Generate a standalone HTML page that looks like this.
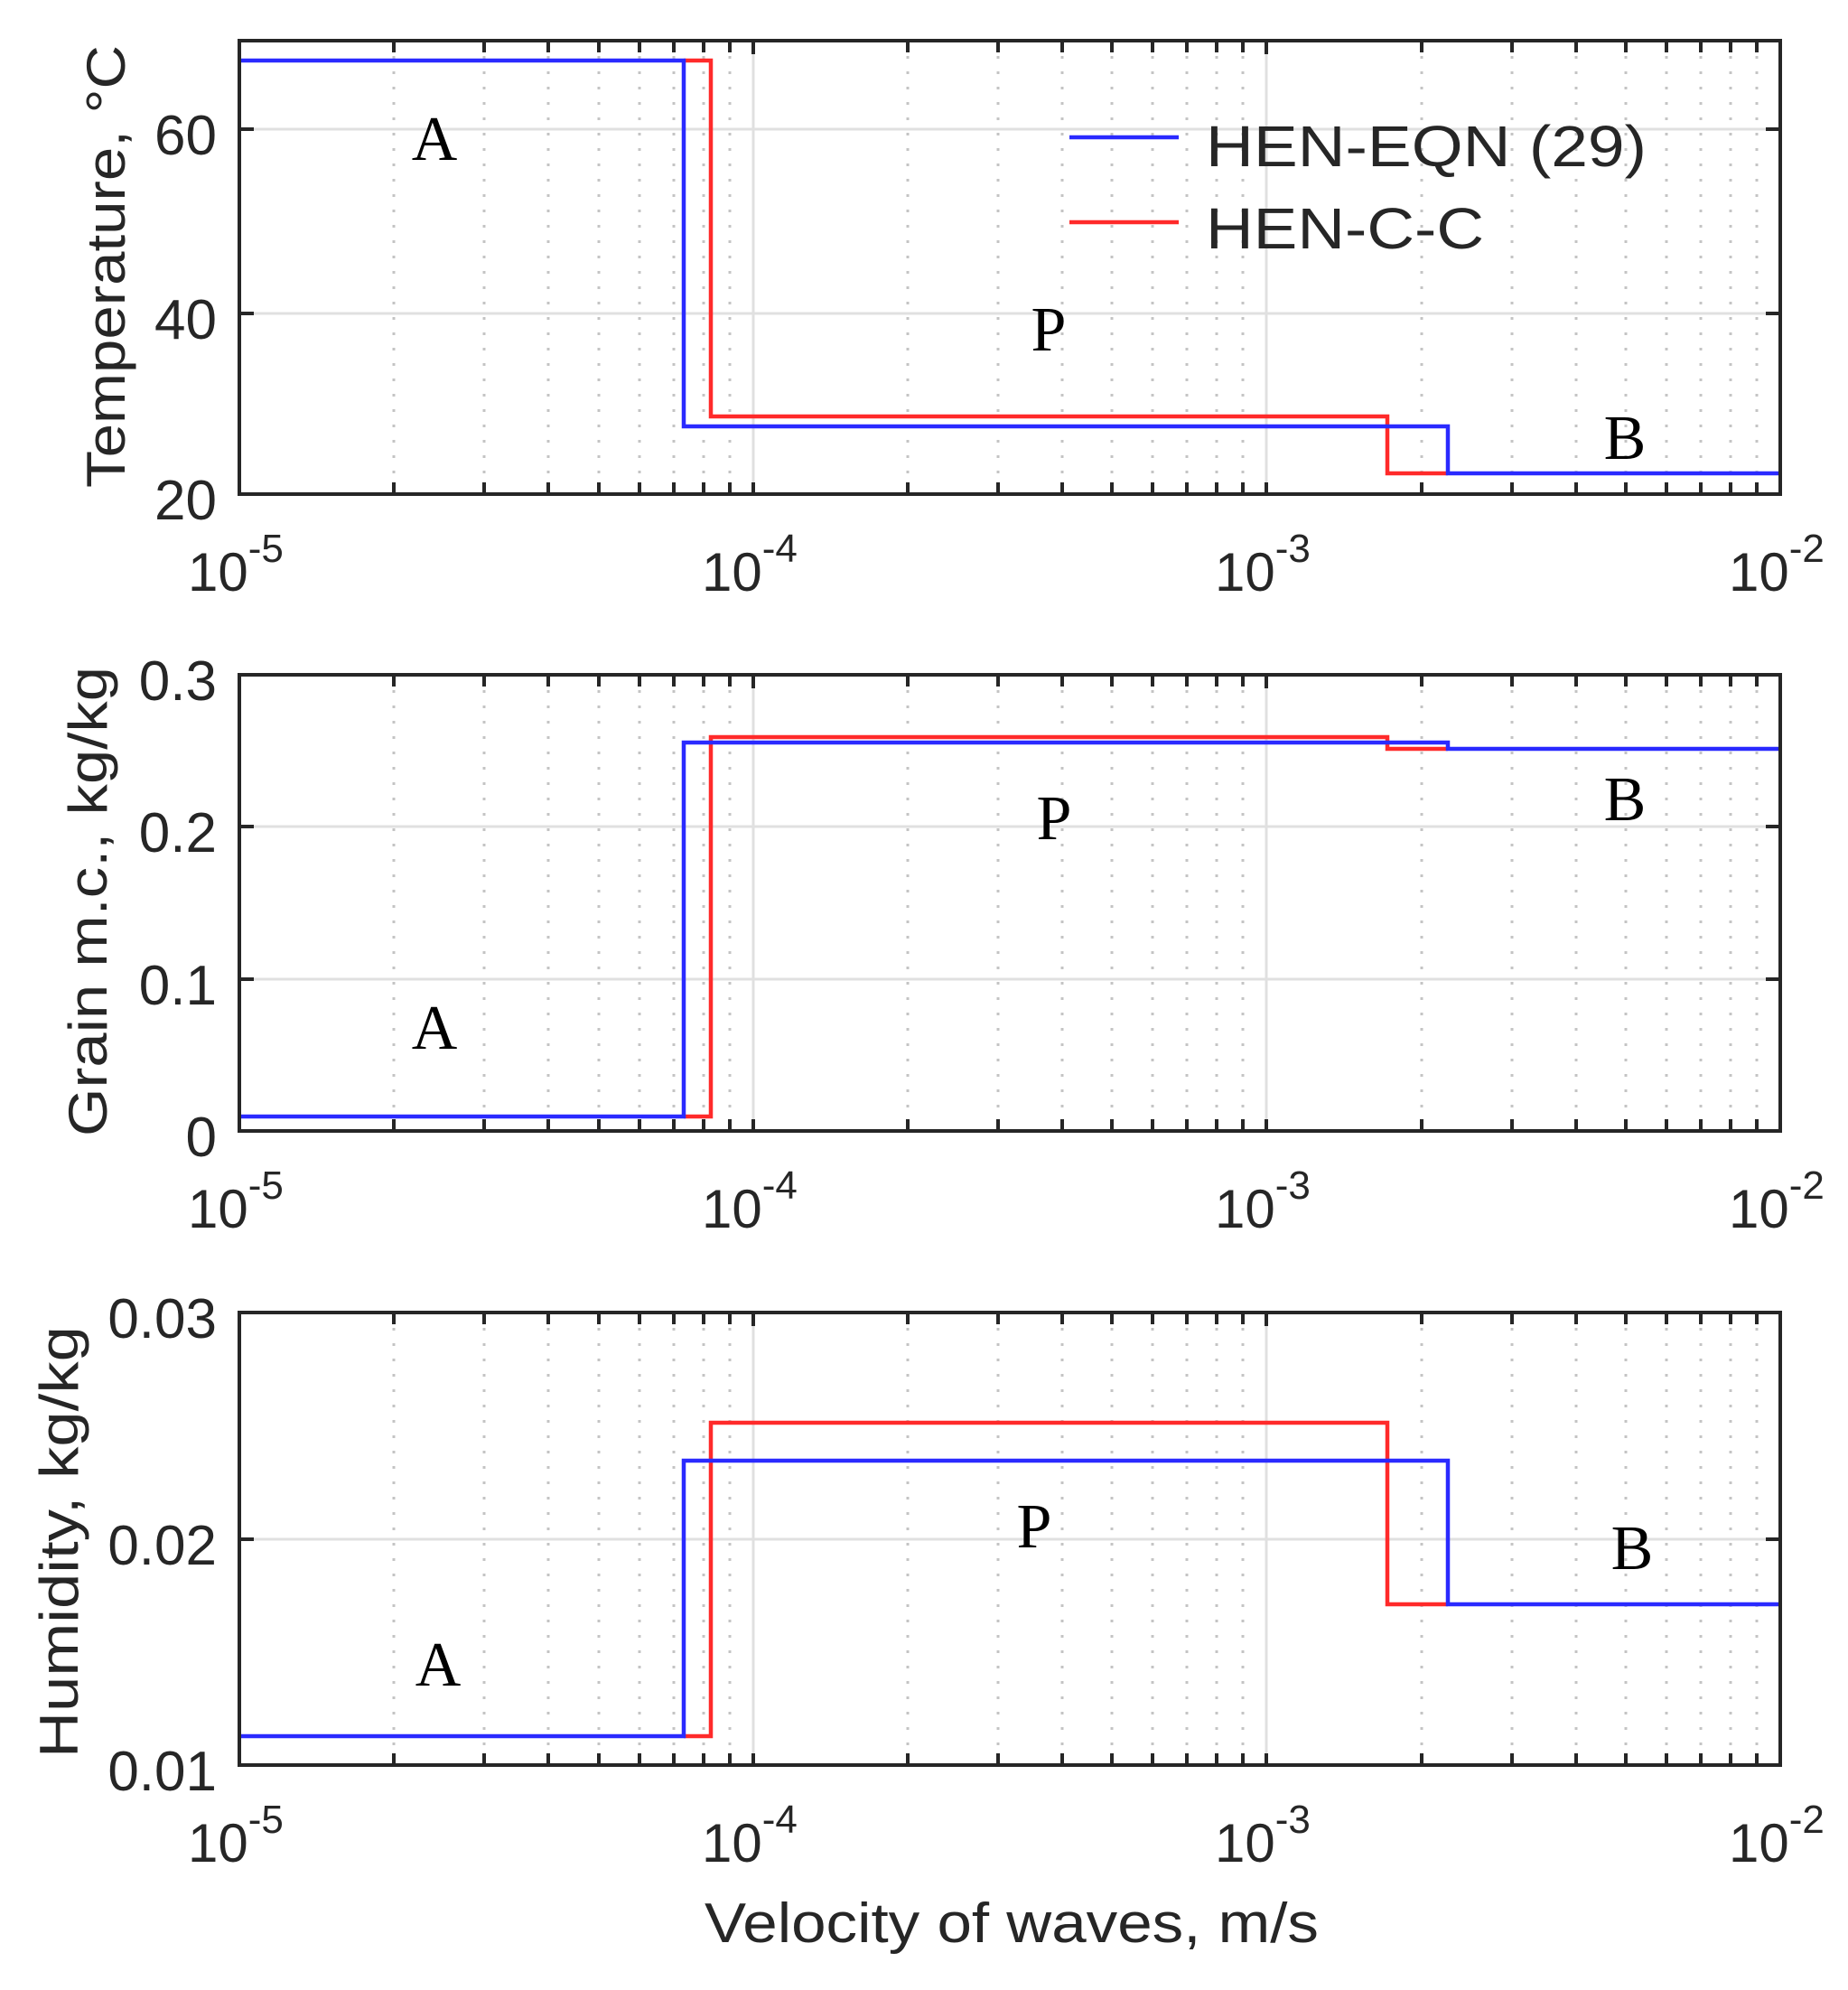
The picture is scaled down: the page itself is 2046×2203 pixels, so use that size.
<!DOCTYPE html>
<html><head><meta charset="utf-8"><style>html,body{margin:0;padding:0;background:#fff}svg{display:block}</style></head>
<body>
<svg xmlns="http://www.w3.org/2000/svg" xmlns:xlink="http://www.w3.org/1999/xlink" width="2046" height="2203" viewBox="0 0 2046 2203">
<defs>
<path id="mt" d="M436 0v13M536 0v13M607 0v13M663 0v13M708 0v13M746 0v13M779 0v13M808 0v13M834 0v15M1005 0v13M1105 0v13M1176 0v13M1231 0v13M1276 0v13M1314 0v13M1347 0v13M1376 0v13M1402 0v15M1574 0v13M1674 0v13M1745 0v13M1800 0v13M1845 0v13M1883 0v13M1916 0v13M1945 0v13" stroke="#262626" stroke-width="4" fill="none"/>
</defs>
<rect width="2046" height="2203" fill="#fff"/>
<g font-family="Liberation Sans, sans-serif" fill="#262626">

<!-- Panel 1 -->
<g>
<path d="M436 45V547M536 45V547M607 45V547M663 45V547M708 45V547M746 45V547M779 45V547M808 45V547M1005 45V547M1105 45V547M1176 45V547M1231 45V547M1276 45V547M1314 45V547M1347 45V547M1376 45V547M1574 45V547M1674 45V547M1745 45V547M1800 45V547M1845 45V547M1883 45V547M1916 45V547M1945 45V547" stroke="#c4c4c4" stroke-width="3" stroke-dasharray="3,14" fill="none"/>
<path d="M834 45V547M1402 45V547M265 143H1971M265 347H1971" stroke="#e0e0e0" stroke-width="3" fill="none"/>
<path d="M757 67H787V461H1536V524H1603" stroke="#ff2a2a" stroke-width="4.5" fill="none"/>
<path d="M265 67H757V472H1603V524H1971" stroke="#2a2aff" stroke-width="4.5" fill="none"/>
<path d="M265 143h16M265 347h16M1971 143h-16M1971 347h-16" stroke="#262626" stroke-width="4"/>
<use xlink:href="#mt" href="#mt" transform="translate(0,45)"/>
<use xlink:href="#mt" href="#mt" transform="translate(0,534)"/>
<rect x="265" y="45" width="1706" height="502" fill="none" stroke="#262626" stroke-width="4"/>
<g font-size="62" text-anchor="end"><text x="240" y="171">60</text><text x="240" y="375">40</text><text x="240" y="575">20</text></g>
<g font-size="60"><text x="208" y="654">10<tspan font-size="44" dy="-32">-5</tspan></text><text x="777" y="654">10<tspan font-size="44" dy="-32">-4</tspan></text><text x="1345" y="654">10<tspan font-size="44" dy="-32">-3</tspan></text><text x="1914" y="654">10<tspan font-size="44" dy="-32">-2</tspan></text></g>
<text transform="translate(138,295) rotate(-90)" font-size="60" text-anchor="middle" textLength="490" lengthAdjust="spacingAndGlyphs">Temperature, °C</text>
<path d="M1184 152H1305" stroke="#2a2aff" stroke-width="4.5"/>
<path d="M1184 246H1305" stroke="#ff2a2a" stroke-width="4.5"/>
<text x="1335" y="184" font-size="64" textLength="488" lengthAdjust="spacingAndGlyphs">HEN-EQN (29)</text>
<text x="1335" y="275" font-size="64" textLength="308" lengthAdjust="spacingAndGlyphs">HEN-C-C</text>
<g font-family="Liberation Serif, serif" font-size="70" fill="#000" text-anchor="middle"><text x="481" y="177">A</text><text x="1161" y="388">P</text><text x="1799" y="508">B</text></g>
</g>

<!-- Panel 2 -->
<g>
<path d="M436 747V1252M536 747V1252M607 747V1252M663 747V1252M708 747V1252M746 747V1252M779 747V1252M808 747V1252M1005 747V1252M1105 747V1252M1176 747V1252M1231 747V1252M1276 747V1252M1314 747V1252M1347 747V1252M1376 747V1252M1574 747V1252M1674 747V1252M1745 747V1252M1800 747V1252M1845 747V1252M1883 747V1252M1916 747V1252M1945 747V1252" stroke="#c4c4c4" stroke-width="3" stroke-dasharray="3,14" fill="none"/>
<path d="M834 747V1252M1402 747V1252M265 1084H1971M265 915H1971" stroke="#e0e0e0" stroke-width="3" fill="none"/>
<path d="M757 1236H787V816H1536V829H1603" stroke="#ff2a2a" stroke-width="4.5" fill="none"/>
<path d="M265 1236H757V822H1603V829H1971" stroke="#2a2aff" stroke-width="4.5" fill="none"/>
<path d="M265 1084h16M265 915h16M1971 1084h-16M1971 915h-16" stroke="#262626" stroke-width="4"/>
<use xlink:href="#mt" href="#mt" transform="translate(0,747)"/>
<use xlink:href="#mt" href="#mt" transform="translate(0,1239)"/>
<rect x="265" y="747" width="1706" height="505" fill="none" stroke="#262626" stroke-width="4"/>
<g font-size="62" text-anchor="end"><text x="240" y="1280">0</text><text x="240" y="1112">0.1</text><text x="240" y="943">0.2</text><text x="240" y="775">0.3</text></g>
<g font-size="60"><text x="208" y="1359">10<tspan font-size="44" dy="-32">-5</tspan></text><text x="777" y="1359">10<tspan font-size="44" dy="-32">-4</tspan></text><text x="1345" y="1359">10<tspan font-size="44" dy="-32">-3</tspan></text><text x="1914" y="1359">10<tspan font-size="44" dy="-32">-2</tspan></text></g>
<text transform="translate(118,998) rotate(-90)" font-size="60" text-anchor="middle" textLength="520" lengthAdjust="spacingAndGlyphs">Grain m.c., kg/kg</text>
<g font-family="Liberation Serif, serif" font-size="70" fill="#000" text-anchor="middle"><text x="481" y="1161">A</text><text x="1167" y="929">P</text><text x="1799" y="908">B</text></g>
</g>

<!-- Panel 3 -->
<g>
<path d="M436 1453V1954M536 1453V1954M607 1453V1954M663 1453V1954M708 1453V1954M746 1453V1954M779 1453V1954M808 1453V1954M1005 1453V1954M1105 1453V1954M1176 1453V1954M1231 1453V1954M1276 1453V1954M1314 1453V1954M1347 1453V1954M1376 1453V1954M1574 1453V1954M1674 1453V1954M1745 1453V1954M1800 1453V1954M1845 1453V1954M1883 1453V1954M1916 1453V1954M1945 1453V1954" stroke="#c4c4c4" stroke-width="3" stroke-dasharray="3,14" fill="none"/>
<path d="M834 1453V1954M1402 1453V1954M265 1704H1971" stroke="#e0e0e0" stroke-width="3" fill="none"/>
<path d="M757 1922H787V1575H1536V1776H1603" stroke="#ff2a2a" stroke-width="4.5" fill="none"/>
<path d="M265 1922H757V1617H1603V1776H1971" stroke="#2a2aff" stroke-width="4.5" fill="none"/>
<path d="M265 1704h16M1971 1704h-16" stroke="#262626" stroke-width="4"/>
<use xlink:href="#mt" href="#mt" transform="translate(0,1453)"/>
<use xlink:href="#mt" href="#mt" transform="translate(0,1941)"/>
<rect x="265" y="1453" width="1706" height="501" fill="none" stroke="#262626" stroke-width="4"/>
<g font-size="62" text-anchor="end"><text x="240" y="1982">0.01</text><text x="240" y="1732">0.02</text><text x="240" y="1481">0.03</text></g>
<g font-size="60"><text x="208" y="2061">10<tspan font-size="44" dy="-32">-5</tspan></text><text x="777" y="2061">10<tspan font-size="44" dy="-32">-4</tspan></text><text x="1345" y="2061">10<tspan font-size="44" dy="-32">-3</tspan></text><text x="1914" y="2061">10<tspan font-size="44" dy="-32">-2</tspan></text></g>
<text transform="translate(86,1707) rotate(-90)" font-size="60" text-anchor="middle" textLength="478" lengthAdjust="spacingAndGlyphs">Humidity, kg/kg</text>
<g font-family="Liberation Serif, serif" font-size="70" fill="#000" text-anchor="middle"><text x="485" y="1866">A</text><text x="1145" y="1713">P</text><text x="1807" y="1737">B</text></g>
<text x="1120" y="2150" font-size="62" text-anchor="middle" textLength="680" lengthAdjust="spacingAndGlyphs">Velocity of waves, m/s</text>
</g>
</g>
</svg>
</body></html>
